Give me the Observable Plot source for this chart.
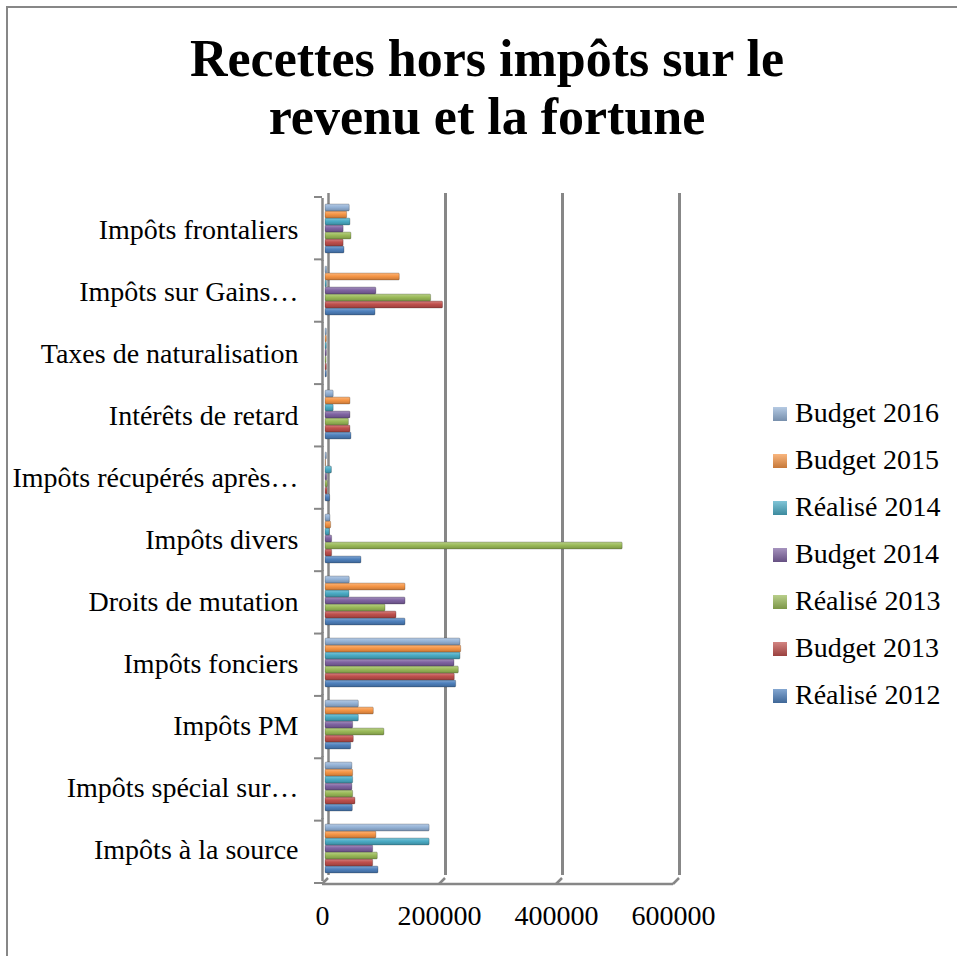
<!DOCTYPE html>
<html><head><meta charset="utf-8">
<script src="https://cdn.jsdelivr.net/npm/d3@7"></script>
<script src="https://cdn.jsdelivr.net/npm/@observablehq/plot@0.6"></script>
<style>
html,body{margin:0;padding:0;background:#fff;overflow:hidden;width:957px;height:956px}
#frame{position:absolute;left:6px;top:6px;width:1000px;height:1000px;border:2px solid #878787;box-sizing:border-box}
#title{position:absolute;left:0;top:30px;width:974px;text-align:center;font:bold 52px/58px "Liberation Serif",serif;color:#000}
#chart{position:absolute;left:0;top:150px}
#legend{position:absolute;left:773px;top:389px;font:28px/47px "Liberation Serif",serif;color:#000}
.item{position:relative;height:47px;padding-left:22px;white-space:nowrap}
.sw{position:absolute;left:0;top:18px;width:14px;height:14px}
</style></head><body>
<div id="frame"></div>
<div id="title">Recettes hors impôts sur le<br>revenu et la fortune</div>
<div id="chart"></div>
<div id="legend"></div>
<svg width="0" height="0" style="position:absolute"><defs id="grads"></defs></svg>
<script>
const categories = ["Impôts frontaliers", "Impôts sur Gains…", "Taxes de naturalisation", "Intérêts de retard", "Impôts récupérés après…", "Impôts divers", "Droits de mutation", "Impôts fonciers", "Impôts PM", "Impôts spécial sur…", "Impôts à la source"];
const series = ["Réalisé 2012", "Budget 2013", "Réalisé 2013", "Budget 2014", "Réalisé 2014", "Budget 2015", "Budget 2016"];
const colors = ["#4F81BD", "#C0504D", "#9BBB59", "#8064A2", "#4BACC6", "#F79646", "#95B3D7"];
const xTicks = [0, 200000, 400000, 600000];

const realise2012 = [32500, 85500, 2500, 44400, 8000, 61500, 136800, 223400, 43900, 46700, 90600];
const budget2013  = [31000, 201000, 2500, 42700, 3500, 11400, 121400, 221000, 48400, 51300, 81500];
const realise2013 = [44400, 180600, 2000, 40000, 4000, 508000, 102600, 227900, 100800, 47300, 89400];
const budget2014  = [31000, 87000, 2500, 42700, 3000, 11400, 136800, 220500, 47300, 46000, 81500];
const realise2014 = [42700, 2500, 2500, 14000, 11000, 7400, 41000, 230800, 57000, 47300, 178000];
const budget2015  = [37000, 127000, 2500, 42700, 1000, 9700, 136800, 232000, 82600, 47300, 87000];
const budget2016  = [41500, 3000, 2500, 14000, 2500, 8500, 41500, 230800, 57000, 46000, 178000];

const valuesBySeries = [realise2012, budget2013, realise2013, budget2014, realise2014, budget2015, budget2016];
const data = series.flatMap((s, i) => categories.map((c, j) => ({category: c, series: s, value: valuesBySeries[i][j]})));

const light = c => d3.interpolateRgb(c, "#fff")(0.3);
const dark = c => d3.interpolateRgb(c, "#000")(0.2);
const defs = d3.select("#grads");
colors.forEach((c, i) => {
  const g = defs.append("linearGradient").attr("id", "g" + i).attr("x1", 0).attr("y1", 0).attr("x2", 0).attr("y2", 1);
  g.append("stop").attr("offset", "0%").attr("stop-color", light(c));
  g.append("stop").attr("offset", "45%").attr("stop-color", c);
  g.append("stop").attr("offset", "100%").attr("stop-color", dark(c));
});

const grey = "#878787";
const chart = Plot.plot({
  width: 957, height: 806,
  marginLeft: 325, marginRight: 281, marginTop: 47, marginBottom: 73,
  style: {fontFamily: '"Liberation Serif", serif', fontSize: "28px", color: "#000", background: "transparent", overflow: "visible"},
  x: {domain: [0, 600000], axis: null},
  y: {domain: series.slice().reverse(), axis: null, paddingInner: 0.05, paddingOuter: 0.75},
  fy: {domain: categories, padding: 0, axis: null},
  color: {domain: series, range: series.map((s, i) => `url(#g${i})`)},
  marks: [
    Plot.ruleX(xTicks.slice(1), {stroke: grey, strokeWidth: 3, dx: 3, insetTop: -6, insetBottom: 6}),
    Plot.ruleX([0], {stroke: grey, strokeWidth: 2.5, dx: 3, insetTop: -6, insetBottom: 6}),
    Plot.ruleX([0], {stroke: grey, strokeWidth: 2.5, dx: -3, insetTop: -1}),
    Plot.barX(data, {x: "value", y: "series", fy: "category", fill: "series", stroke: "rgba(0,0,0,0.35)", strokeWidth: 0.6, dy: -2, rx: 1}),
    Plot.axisFy({anchor: "left", tickSize: 0, tickPadding: 27, label: null, fontSize: 28}),
    Plot.axisX({ticks: xTicks, tickSize: 0, tickPadding: 24, dx: -3, tickFormat: d => String(d), label: null, fontSize: 28})
  ]
});
document.getElementById("chart").appendChild(chart);

// y tick marks at category boundaries and the 3D floor
const svg = d3.select(chart);
const fy = chart.scale("fy"), xs = chart.scale("x");
const r0 = fy.range[0], r1 = fy.range[1];
const step = (r1 - r0) / categories.length;
const x0 = xs.apply(0);
const g = svg.append("g").attr("stroke", grey).attr("fill", "none");
d3.range(categories.length + 1).forEach(i => {
  const y = r0 + i * step;
  g.append("line").attr("x1", x0 - 11).attr("x2", x0 - 3).attr("y1", y).attr("y2", y).attr("stroke-width", 2);
});
g.append("line").attr("x1", x0 - 3).attr("x2", xs.apply(600000) - 3).attr("y1", r1 + 1).attr("y2", r1 + 1).attr("stroke-width", 2.5);
xTicks.forEach(t => {
  const xt = xs.apply(t);
  g.append("line").attr("x1", xt + 3).attr("y1", r1 - 5).attr("x2", xt - 3).attr("y2", r1 + 1).attr("stroke-width", 2.5);
});

// legend
const legend = d3.select("#legend");
series.slice().reverse().forEach(s => {
  const c = colors[series.indexOf(s)];
  const it = legend.append("div").attr("class", "item");
  it.append("span").attr("class", "sw").style("background", `linear-gradient(${light(c)}, ${dark(c)})`);
  it.append("span").text(s);
});
</script>
</body></html>
